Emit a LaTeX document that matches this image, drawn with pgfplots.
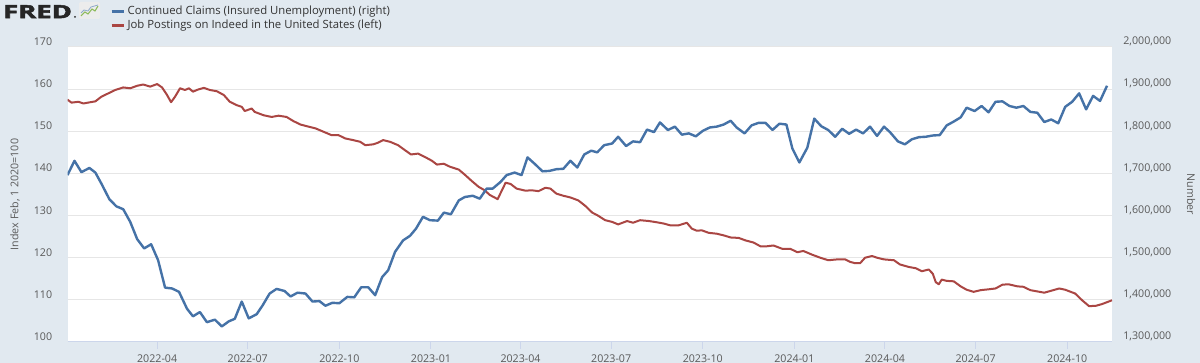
\documentclass[border=0pt]{standalone}
\usepackage{fontspec}
\setmainfont{Open Sans}
\usepackage{graphicx}
\usepackage{pgfplots}
\pgfplotsset{compat=1.18}
\definecolor{bgc}{HTML}{E1E9F0}
\definecolor{gridc}{HTML}{E6E6E6}
\definecolor{txtc}{HTML}{595959}
\definecolor{legc}{HTML}{333333}
\definecolor{blueln}{HTML}{4572A7}
\definecolor{redln}{HTML}{AA4643}
\definecolor{tickc}{HTML}{CCD6EB}
\definecolor{icong}{HTML}{8DBA5A}

\pgfplotsset{
  common/.style={
    at={(50.625pt,15.75pt)}, anchor=south west,
    scale only axis, width=783.375pt, height=221.25pt,
    xmin=0, xmax=1049,
    ticklabel style={font=\fontsize{8}{9}\selectfont, text=txtc},
    label style={font=\fontsize{8}{9}\selectfont, text=txtc},
    /pgf/number format/assume math mode=true,
  }
}

\begin{document}
\begin{tikzpicture}
\path[use as bounding box] (0,0) rectangle (900pt,272.25pt);
\fill[bgc] (0,0) rectangle (900pt,272.25pt);

% FRED logo
\node[anchor=base west, inner sep=0pt, text=black!85] at (2.2pt,258.6pt) {\scalebox{1.5}[1]{\fontsize{13.7}{14}\selectfont\bfseries\addfontfeature{FakeBold=2.5}FRED}};
\fill[black!85] (56.3pt,259.6pt) circle (0.75pt);
\begin{scope}[x=0.75pt,y=0.75pt]
\fill[white!85!gray, rounded corners=1pt] (79,344) rectangle (100,361);
\draw[icong, line width=0.8pt] (81,347) -- (85,351) -- (88,349) -- (92,354) -- (95,352) -- (98,357);
\draw[blueln!60!white, line width=0.6pt] (81,350) -- (84,353) -- (88,352) -- (91,356) -- (98,358);
\end{scope}

\begin{axis}[common,
  ymin=100, ymax=170,
  axis background/.style={fill=white},
  axis x line*=bottom, axis y line*=left,
  x axis line style={tickc, line width=0.75pt, -},
  y axis line style={draw=none},
  xtick={90,181,273,365,455,546,638,730,821,912,1004},
  xticklabels={2022-04,2022-07,2022-10,2023-01,2023-04,2023-07,2023-10,2024-01,2024-04,2024-07,2024-10},
  tick align=outside,
  xtick style={tickc, line width=0.75pt},
  major tick length=5pt,
  ytick={100,110,120,130,140,150,160,170},
  ytick style={draw=none},
  ymajorgrids, grid style={gridc, line width=0.75pt},
  yticklabel style={xshift=-3pt, yshift=4pt},
  xticklabel style={yshift=-1pt},
  ylabel={Index Feb, 1 2020=100},
  ylabel style={at={(axis description cs:-0.0503,0.5)}, anchor=center},
]
\addplot[redln, line width=1.5pt, line join=round] coordinates {
(0,157.5)(4,156.8)(11,157.0)(16,156.6)(23,156.9)(28,157.1)(34,158.2)(41,159.0)(48,159.8)(56,160.4)(63,160.2)(70,160.8)(76,161.1)(83,160.6)(90,161.2)(95,160.4)(100,158.6)(104,156.9)(108,158.2)(113,160.2)(118,159.8)(122,160.2)(126,159.4)(131,159.9)(137,160.3)(143,159.8)(150,159.5)(157,158.6)(163,157.0)(170,156.2)(175,155.8)(178,154.8)(185,155.4)(188,154.6)(197,153.8)(205,153.4)(212,153.7)(220,153.4)(227,152.4)(234,151.6)(242,151.1)(249,150.7)(257,149.9)(265,149.1)(272,149.1)(279,148.3)(287,147.9)(294,147.5)(299,146.7)(307,146.9)(312,147.3)(317,147.9)(324,147.5)(332,146.7)(339,145.5)(345,144.5)(352,144.7)(359,143.9)(366,143.0)(371,142.1)(378,142.3)(384,141.6)(393,140.9)(399,139.7)(406,138.2)(413,136.8)(419,136.0)(424,134.9)(432,133.9)(440,137.8)(445,137.5)(451,136.4)(460,135.9)(466,136.0)(473,135.8)(480,136.6)(485,136.4)(491,135.2)(498,134.7)(505,134.3)(513,133.6)(520,132.3)(527,130.7)(532,130.1)(540,128.9)(547,128.5)(553,127.9)(562,128.7)(568,128.3)(575,128.9)(584,128.7)(592,128.4)(599,128.1)(605,127.7)(614,127.7)(622,128.3)(627,126.9)(632,126.4)(637,126.5)(644,125.9)(652,125.7)(659,125.3)(666,124.8)(674,124.7)(681,124.1)(689,123.6)(696,122.7)(702,122.7)(709,122.9)(718,122.1)(726,122.1)(733,121.3)(739,121.6)(748,120.7)(756,120.0)(764,119.4)(773,119.6)(781,119.6)(786,119.0)(791,118.7)(796,118.7)(801,120.0)(808,120.4)(813,120.0)(820,119.6)(830,119.4)(836,118.4)(845,117.8)(852,117.5)(858,116.8)(865,117.2)(869,116.2)(872,114.2)(875,113.7)(878,114.8)(883,114.5)(890,114.4)(897,113.2)(903,112.4)(910,111.9)(917,112.3)(925,112.5)(932,112.7)(939,113.6)(945,113.7)(954,113.2)(960,113.1)(967,112.3)(974,112.0)(981,111.7)(987,112.1)(996,112.7)(1002,112.4)(1012,111.5)(1019,109.9)(1026,108.5)(1033,108.6)(1039,109.0)(1049,109.9)
};
\end{axis}

\begin{axis}[common,
  ymin=1300000, ymax=2000000,
  axis x line=none, axis y line*=right,
  y axis line style={draw=none},
  ytick={1300000,1400000,1500000,1600000,1700000,1800000,1900000,2000000},
  ytick style={draw=none},
  scaled y ticks=false,
  yticklabel style={xshift=5pt, yshift=4pt, /pgf/number format/.cd, fixed, 1000 sep={,}},
  ylabel={Number},
  ylabel style={at={(axis description cs:1.0757,0.5)}, anchor=center, rotate=180},
  legend style={at={(axis description cs:0.0407,1.1458)}, anchor=north west, draw=none, fill=none,
    inner sep=0pt, font=\fontsize{8.5}{10}\selectfont, text=legc, row sep=-0.5pt,
    nodes={inner sep=1.5pt}},
  legend cell align=left,
  legend image code/.code={\draw[#1, line width=2pt] (0pt,0pt) -- (9.5pt,0pt);},
]
\addplot[blueln, line width=1.8pt, line join=round] coordinates {
(0,1696000)(7,1730000)(14,1703000)(22,1713000)(28,1702000)(34,1676000)(42,1639000)(49,1622000)(56,1615000)(63,1585000)(70,1544000)(77,1522000)(84,1532000)(91,1494000)(98,1429000)(105,1427000)(112,1419000)(120,1379000)(126,1361000)(133,1371000)(140,1347000)(148,1353000)(155,1337000)(162,1349000)(168,1355000)(175,1396000)(182,1356000)(190,1366000)(196,1387000)(203,1415000)(210,1426000)(218,1421000)(224,1408000)(231,1417000)(239,1415000)(246,1396000)(253,1397000)(259,1386000)(266,1393000)(273,1392000)(281,1407000)(288,1406000)(295,1430000)(302,1430000)(309,1411000)(316,1454000)(322,1470000)(329,1514000)(337,1541000)(344,1552000)(350,1569000)(357,1597000)(364,1589000)(372,1588000)(378,1607000)(385,1603000)(393,1636000)(399,1644000)(407,1647000)(414,1640000)(421,1664000)(427,1664000)(435,1680000)(441,1696000)(449,1702000)(456,1696000)(462,1738000)(470,1721000)(477,1705000)(484,1706000)(491,1710000)(498,1711000)(505,1730000)(512,1714000)(519,1745000)(526,1754000)(532,1750000)(539,1767000)(547,1771000)(553,1787000)(561,1765000)(568,1776000)(575,1774000)(582,1804000)(589,1798000)(595,1821000)(603,1803000)(610,1811000)(617,1792000)(624,1795000)(631,1788000)(638,1801000)(645,1809000)(652,1811000)(659,1816000)(666,1825000)(672,1809000)(680,1795000)(687,1814000)(694,1820000)(701,1820000)(708,1803000)(715,1818000)(722,1816000)(728,1759000)(735,1726000)(743,1761000)(750,1830000)(757,1812000)(764,1803000)(771,1787000)(778,1806000)(785,1794000)(792,1804000)(799,1795000)(806,1811000)(813,1789000)(820,1811000)(826,1798000)(834,1776000)(841,1769000)(848,1781000)(855,1786000)(862,1787000)(869,1790000)(876,1791000)(883,1814000)(890,1823000)(897,1833000)(903,1856000)(911,1848000)(918,1860000)(925,1845000)(932,1870000)(939,1871000)(946,1860000)(953,1856000)(960,1860000)(967,1846000)(974,1844000)(981,1822000)(988,1828000)(995,1819000)(1002,1858000)(1009,1870000)(1016,1890000)(1023,1852000)(1030,1884000)(1037,1872000)(1044,1908000)
};
\addlegendentry{Continued Claims (Insured Unemployment) (right)}
\addlegendimage{redln, line width=2pt}
\addlegendentry{Job Postings on Indeed in the United States (left)}
\end{axis}
\end{tikzpicture}
\end{document}
